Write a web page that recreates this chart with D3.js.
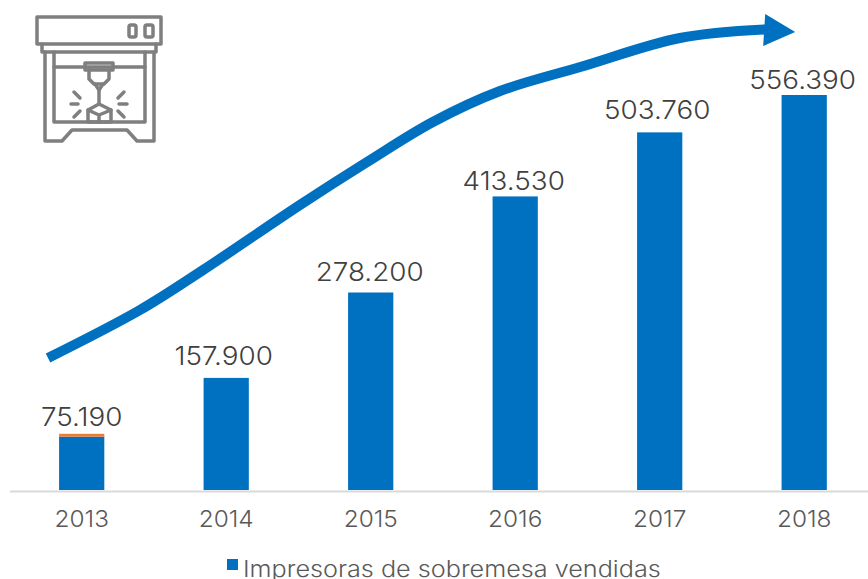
<!DOCTYPE html>
<html><head><meta charset="utf-8">
<script src="https://cdn.jsdelivr.net/npm/d3@7"></script>
<style>
html,body{margin:0;padding:0;background:#fff}
text{font-family:Inter,Lato,sans-serif;font-weight:300;fill:#404040}
</style></head><body>
<svg id="c" width="868" height="579"></svg>
<script>
const years=["2013","2014","2015","2016","2017","2018"];
const soldUnits=[75190,157900,278200,413530,503760,556390];
const extraUnits=[4000,0,0,0,0,0];
const valueLabels=["75.190","157.900","278.200","413.530","503.760","556.390"];
const legendLabel="Impresoras de sobremesa vendidas";
// growth arrow path, in year / unit coordinates
const trendYear=[2012.767,2013.403,2013.84,2014.51,2014.975,2015.43,2015.895,2016.45,2017.14,2017.73];
const trendUnits=[185900,253500,309900,401500,462000,518400,562000,595800,636700,648700];

const svg=d3.select("#c");
const baseY=490;
const x=d3.scaleBand().domain(years).range([9.45,876.45]).paddingInner(0.687).paddingOuter(0.3435);
const y=d3.scaleLinear().domain([0,556390]).range([baseY,95]);
const centre=d=>x(d)+x.bandwidth()/2;
const xYear=d3.scaleLinear().domain([2013,2018]).range([centre("2013"),centre("2018")]);

// Stretches a text horizontally from its natural width, for a wider letterform
function widen(sel,factor){
  sel.each(function(){
    this.setAttribute("textLength",this.getComputedTextLength()*factor);
    this.setAttribute("lengthAdjust","spacingAndGlyphs");
  });
}

// trend arrow behind everything
const line=d3.line().x((d,i)=>xYear(trendYear[i])).y(d=>y(d)).curve(d3.curveCatmullRom.alpha(0.5));
svg.append("path").attr("d",line(trendUnits)).attr("fill","none").attr("stroke","#0070C0").attr("stroke-width",10);
const endX=xYear(trendYear[trendYear.length-1]), endY=y(trendUnits[trendUnits.length-1]);
svg.append("path").attr("fill","#0070C0")
  .attr("d",d3.line()([[endX,endY-15.5],[endX+30,endY+2.5],[endX-2,endY+16.5]]));

// bars
svg.append("g").selectAll("rect").data(years).join("rect")
  .attr("x",d=>x(d)).attr("width",x.bandwidth())
  .attr("y",(d,i)=>y(soldUnits[i])).attr("height",(d,i)=>baseY-y(soldUnits[i]))
  .attr("fill","#0070C0");
svg.append("g").selectAll("rect").data(years.filter((d,i)=>extraUnits[i]>0)).join("rect")
  .attr("x",d=>x(d)).attr("width",x.bandwidth())
  .attr("y",d=>y(soldUnits[years.indexOf(d)]+extraUnits[years.indexOf(d)]))
  .attr("height",d=>baseY-y(extraUnits[years.indexOf(d)]))
  .attr("fill","#ED7D31");

// baseline
svg.append("line").attr("x1",10).attr("x2",868).attr("y1",491.5).attr("y2",491.5)
  .attr("stroke","#D9D9D9").attr("stroke-width",2);

// year axis
const axis=d3.axisBottom(x).tickSize(0).tickPadding(0);
const ax=svg.append("g").attr("transform","translate(0,511)").call(axis);
ax.select(".domain").remove();
ax.attr("font-family",null).attr("font-size",null);
ax.selectAll("text").attr("dy",0).attr("y",16)
  .style("font-size","23px").style("fill","#595959").call(widen,1.06);

// value labels sit at hand-set distances from their bars
const labelGap=[8,13,11,6,13,6];
const labelShift=[0,-2.5,-1,-1.5,-2.5,-1.5];
svg.append("g").selectAll("text").data(years).join("text")
  .attr("x",(d,i)=>centre(d)+labelShift[i])
  .attr("y",(d,i)=>y(soldUnits[i]+extraUnits[i])-labelGap[i])
  .attr("text-anchor","middle").style("font-size","26px")
  .text((d,i)=>valueLabels[i]).call(widen,1.07);

// legend
svg.append("rect").attr("x",227).attr("y",559).attr("width",11).attr("height",11).attr("fill","#0070C0");
svg.append("text").attr("x",243).attr("y",577).style("font-size","22.5px").style("fill","#595959")
  .text(legendLabel).call(widen,1.12);

// 3D printer pictogram
const icon=svg.append("g").attr("fill","none").attr("stroke","#7F7F7F").attr("stroke-width",3.5)
  .attr("stroke-linejoin","round").attr("stroke-linecap","round");
const seg=(p)=>icon.append("path").attr("d",p);
seg("M37 17H161V44H37Z");
seg("M42 44V52H156V44");
seg("M45 52V141H62L72 130H127L137 141H154V52");
seg("M54 52V122H145V52");
seg("M54 67H145");
seg("M85 63H113V70H85Z");
seg("M89 70V79L94 84H104L109 79V70");
seg("M95 84L99 90L103 84");
seg("M99 90V104");
seg("M88 110L99 104L111 110V122H88Z");
seg("M88 110L99 115L111 110M99 115V122");
seg("M71 104H78M119 104H127M74 92L80 98M124 92L118 98M74 117L80 111M124 117L118 111");
icon.append("rect").attr("x",129).attr("y",25).attr("width",7).attr("height",12).attr("rx",2);
icon.append("rect").attr("x",145).attr("y",25).attr("width",8).attr("height",12).attr("rx",2);
</script></body></html>
